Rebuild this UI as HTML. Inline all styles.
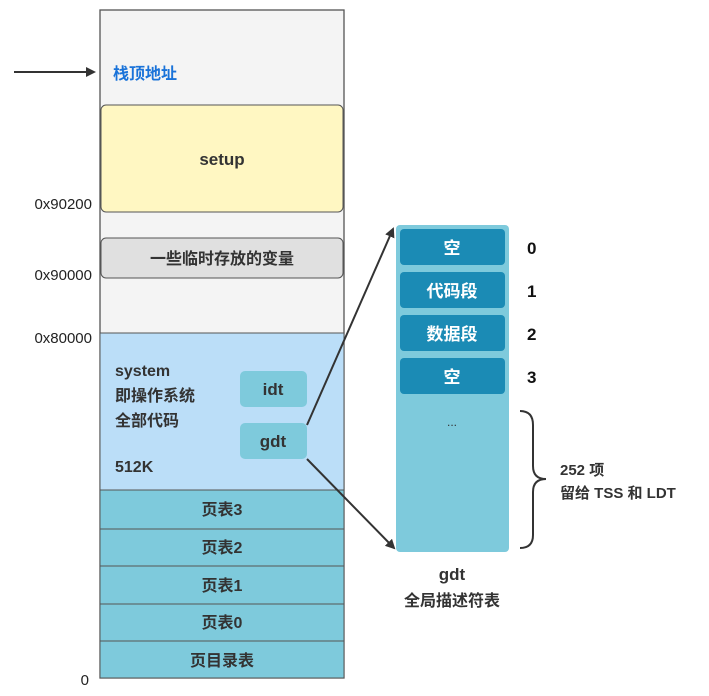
<!DOCTYPE html>
<html><head><meta charset="utf-8"><style>
html,body{margin:0;padding:0;background:#fff;width:709px;height:696px;overflow:hidden}
text{font-family:"Liberation Sans","Noto Sans CJK SC",sans-serif}
</style></head><body>
<svg width="709" height="696" viewBox="0 0 709 696" xmlns="http://www.w3.org/2000/svg">
<defs><marker id="ah" markerWidth="10" markerHeight="10" refX="8" refY="5" orient="auto" markerUnits="userSpaceOnUse"><path d="M0,0 L10,5 L0,10 z" fill="#333"/></marker></defs>
<rect x="100" y="10" width="244" height="668" fill="#f4f4f4" stroke="#555" stroke-width="1.3"/>
<line x1="14" y1="72" x2="94" y2="72" stroke="#333" stroke-width="2" marker-end="url(#ah)"/>
<text x="113" y="79" font-size="16" font-weight="bold" fill="#1a73d9">栈顶地址</text>
<rect x="101" y="105" width="242" height="107" rx="5" fill="#fff7c2" stroke="#555"/>
<text x="222" y="165" font-size="17" font-weight="bold" fill="#333" text-anchor="middle">setup</text>
<rect x="101" y="238" width="242" height="40" rx="5" fill="#e0e0e0" stroke="#555"/>
<text x="222" y="264" font-size="16" font-weight="bold" fill="#333" text-anchor="middle">一些临时存放的变量</text>
<rect x="100" y="333" width="244" height="157" fill="#bbdef8" stroke="#555"/>
<text x="115" y="376" font-size="16" font-weight="bold" fill="#333">system</text>
<text x="115" y="401" font-size="16" font-weight="bold" fill="#333">即操作系统</text>
<text x="115" y="426" font-size="16" font-weight="bold" fill="#333">全部代码</text>
<text x="115" y="472" font-size="16" font-weight="bold" fill="#333">512K</text>
<rect x="240" y="371" width="67" height="36" rx="5" fill="#7ecadc"/>
<text x="273" y="395" font-size="17" font-weight="bold" fill="#333" text-anchor="middle">idt</text>
<rect x="240" y="423" width="67" height="36" rx="5" fill="#7ecadc"/>
<text x="273" y="447" font-size="17" font-weight="bold" fill="#333" text-anchor="middle">gdt</text>
<g fill="#7ecadc" stroke="#555">
<rect x="100" y="490" width="244" height="39"/><rect x="100" y="529" width="244" height="37"/>
<rect x="100" y="566" width="244" height="38"/><rect x="100" y="604" width="244" height="37"/>
<rect x="100" y="641" width="244" height="37"/></g>
<g font-size="16" font-weight="bold" fill="#333" text-anchor="middle">
<text x="222" y="515">页表3</text><text x="222" y="553">页表2</text><text x="222" y="591">页表1</text>
<text x="222" y="628">页表0</text><text x="222" y="666">页目录表</text></g>
<g font-size="15" fill="#222" text-anchor="end">
<text x="92" y="209">0x90200</text><text x="92" y="280">0x90000</text><text x="92" y="343">0x80000</text><text x="89" y="685">0</text></g>
<rect x="396" y="225" width="113" height="327" rx="4" fill="#7ecadc"/>
<g fill="#1b8bb5"><rect x="400" y="229" width="105" height="36" rx="4"/><rect x="400" y="272" width="105" height="36" rx="4"/>
<rect x="400" y="315" width="105" height="36" rx="4"/><rect x="400" y="358" width="105" height="36" rx="4"/></g>
<g font-size="17" font-weight="bold" fill="#fff" text-anchor="middle">
<text x="452" y="254">空</text><text x="452" y="297">代码段</text><text x="452" y="340">数据段</text><text x="452" y="383">空</text></g>
<g font-size="17" font-weight="bold" fill="#111">
<text x="527" y="254">0</text><text x="527" y="297">1</text><text x="527" y="340">2</text><text x="527" y="383">3</text></g>
<text x="452" y="426" font-size="12" fill="#333" text-anchor="middle">...</text>
<line x1="307" y1="425" x2="393" y2="229" stroke="#333" stroke-width="2" marker-end="url(#ah)"/>
<line x1="307" y1="459" x2="394" y2="548" stroke="#333" stroke-width="2" marker-end="url(#ah)"/>
<path d="M520,411 Q533,411 533,425 L533,466 Q533,479 546,479 Q533,479 533,492 L533,535 Q533,548 520,548" fill="none" stroke="#333" stroke-width="2"/>
<text x="560" y="475" font-size="15" font-weight="bold" fill="#333">252 项</text>
<text x="560" y="498" font-size="15" font-weight="bold" fill="#333">留给 TSS 和 LDT</text>
<text x="452" y="580" font-size="17" font-weight="bold" fill="#333" text-anchor="middle">gdt</text>
<text x="452" y="606" font-size="16" font-weight="bold" fill="#333" text-anchor="middle">全局描述符表</text>
</svg>
</body></html>
